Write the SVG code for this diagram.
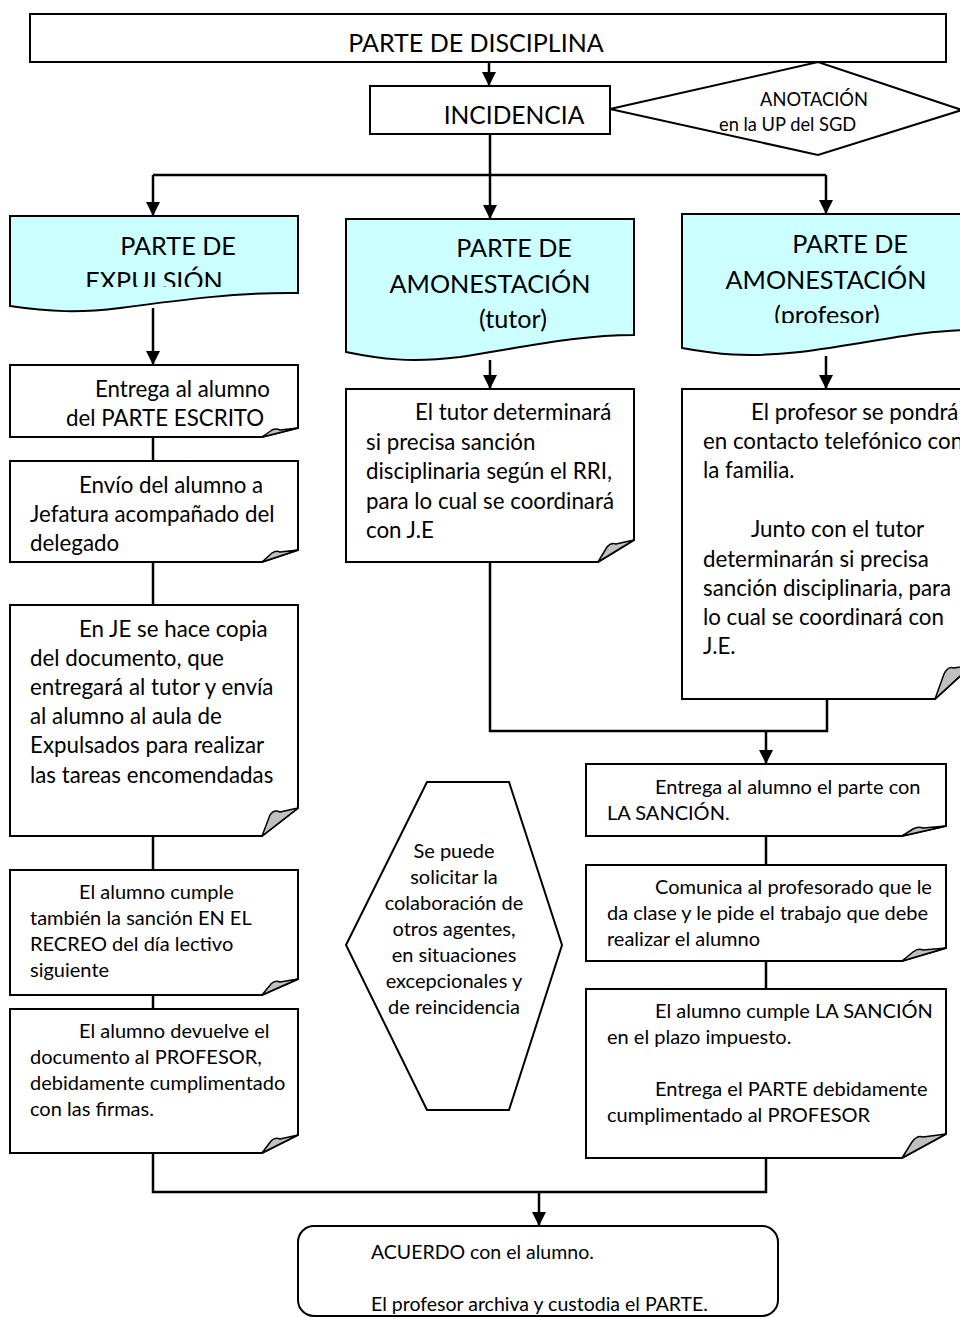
<svg xmlns="http://www.w3.org/2000/svg" width="960" height="1317" viewBox="0 0 960 1317">
<style>
.box{fill:#fff;stroke:#000;stroke-width:2}
.cyan{fill:#ccffff;stroke:#000;stroke-width:2}
.fold{fill:#c0c0c0;stroke:#000;stroke-width:1.5;stroke-linejoin:round}
.t{font-family:Lato,"Open Sans","Liberation Sans",sans-serif;fill:#000}
.big{font-size:25.2px}
.mid{font-size:22.3px}
.sm{font-size:20px}
.xs{font-size:18.3px}
.c{text-anchor:middle}
.ln{fill:none;stroke:#000;stroke-width:2.5}
</style>
<defs>
<marker id="ah" markerUnits="userSpaceOnUse" markerWidth="14" markerHeight="14" refX="14" refY="7" orient="auto">
<path d="M0,0 L14,7 L0,14 Z" fill="#000"/>
</marker>
<clipPath id="clipExp"><rect x="0" y="200" width="320" height="87"/></clipPath>
<clipPath id="clipProf"><rect x="660" y="200" width="300" height="123"/></clipPath>
<clipPath id="clipDel"><rect x="0" y="460" width="320" height="96"/></clipPath>
</defs>

<g id="connectors">
<line class="ln" x1="489" y1="62" x2="489" y2="86" marker-end="url(#ah)"/>
<polyline class="ln" points="490,134 490,175"/>
<polyline class="ln" points="153,175 826,175"/>
<line class="ln" x1="153" y1="175" x2="153" y2="216" marker-end="url(#ah)"/>
<line class="ln" x1="490" y1="175" x2="490" y2="219" marker-end="url(#ah)"/>
<line class="ln" x1="826" y1="175" x2="826" y2="214" marker-end="url(#ah)"/>
<line class="ln" x1="153" y1="308" x2="153" y2="365" marker-end="url(#ah)"/>
<line class="ln" x1="490" y1="360" x2="490" y2="389" marker-end="url(#ah)"/>
<line class="ln" x1="826" y1="356" x2="826" y2="389" marker-end="url(#ah)"/>
<line class="ln" x1="153" y1="437" x2="153" y2="461"/>
<line class="ln" x1="153" y1="562" x2="153" y2="605"/>
<line class="ln" x1="153" y1="836" x2="153" y2="870"/>
<line class="ln" x1="153" y1="995" x2="153" y2="1009"/>
<polyline class="ln" points="153,1153 153,1192 766,1192 766,1158"/>
<line class="ln" x1="539" y1="1192" x2="539" y2="1226" marker-end="url(#ah)"/>
<polyline class="ln" points="490,562 490,731 827,731 827,699"/>
<line class="ln" x1="766" y1="731" x2="766" y2="764" marker-end="url(#ah)"/>
<line class="ln" x1="766" y1="836" x2="766" y2="865"/>
<line class="ln" x1="766" y1="961" x2="766" y2="989"/>
</g>

<g id="parte-disciplina">
<rect class="box" x="30" y="14" width="916" height="48"/>
<text class="t c" x="476" y="52" font-size="25">PARTE DE DISCIPLINA</text>
</g>

<g id="incidencia">
<rect class="box" x="370" y="86" width="240" height="48"/>
<text class="t c" x="514" y="124" font-size="24.6">INCIDENCIA</text>
</g>

<g id="anotacion">
<polygon class="box" points="610,109 818,62 962,110 818,155"/>
<text class="t xs c" x="814" y="106">ANOTACIÓN</text>
<text class="t xs" x="719" y="131">en la UP del SGD</text>
</g>

<g id="parte-expulsion">
<path class="cyan" d="M10,216 H298 V293 C240,292 180,300 120,308 C80,313 50,312 10,306 Z"/>
<text class="t big c" x="178" y="255">PARTE DE</text>
<text class="t big c" x="154" y="290" clip-path="url(#clipExp)">EXPULSIÓN</text>
</g>

<g id="parte-amonestacion-tutor">
<path class="cyan" d="M346,219 H634 V335 C580,335 530,346 460,357 C410,363 380,359 346,352 Z"/>
<text class="t big c" x="514" y="257">PARTE DE</text>
<text class="t big c" x="490" y="293">AMONESTACIÓN</text>
<text class="t big c" x="513" y="328">(tutor)</text>
</g>

<g id="parte-amonestacion-profesor">
<path class="cyan" d="M682,214 H972 V330 C920,330 870,343 800,352 C745,358 715,354 682,348 Z"/>
<text class="t big c" x="850" y="253">PARTE DE</text>
<text class="t big c" x="826" y="289">AMONESTACIÓN</text>
<text class="t big c" x="827" y="324" clip-path="url(#clipProf)">(profesor)</text>
</g>

<g id="entrega-parte-escrito">
<path class="box" d="M10,365 H298 V428 L262,437 H10 Z"/>
<path class="fold" d="M262,437 L272,430 Q276,428 280,430 L298,428 Z"/>
<text class="t mid" x="95" y="397">Entrega al alumno</text>
<text class="t mid" x="66" y="426">del PARTE ESCRITO</text>
</g>

<g id="envio-jefatura">
<path class="box" d="M10,461 H298 V550 L262,562 H10 Z"/>
<path class="fold" d="M262,562 L272,553 Q276,550 280,552 L298,550 Z"/>
<text class="t mid" x="79" y="493">Envío del alumno a</text>
<text class="t mid" x="30" y="522">Jefatura acompañado del</text>
<text class="t mid" x="30" y="551" clip-path="url(#clipDel)">delegado</text>
</g>

<g id="copia-je">
<path class="box" d="M10,605 H298 V808 L262,836 H10 Z"/>
<path class="fold" d="M262,836 L270,815 Q274,809 280,812 L298,808 Z"/>
<text class="t mid" x="79" y="637">En JE se hace copia</text>
<text class="t mid" x="30" y="666">del documento, que</text>
<text class="t mid" x="30" y="695">entregará al tutor y envía</text>
<text class="t mid" x="30" y="724">al alumno al aula de</text>
<text class="t mid" x="30" y="753">Expulsados para realizar</text>
<text class="t mid" x="30" y="783">las tareas encomendadas</text>
</g>

<g id="sancion-recreo">
<path class="box" d="M10,870 H298 V979 L262,995 H10 Z"/>
<path class="fold" d="M262,995 L271,984 Q275,980 280,982 L298,979 Z"/>
<text class="t sm" x="79" y="899">El alumno cumple</text>
<text class="t sm" x="30" y="925">también la sanción EN EL</text>
<text class="t sm" x="30" y="951">RECREO del día lectivo</text>
<text class="t sm" x="30" y="977">siguiente</text>
</g>

<g id="devuelve-documento">
<path class="box" d="M10,1009 H298 V1135 L262,1153 H10 Z"/>
<path class="fold" d="M262,1153 L271,1141 Q275,1137 280,1139 L298,1135 Z"/>
<text class="t sm" x="79" y="1038">El alumno devuelve  el</text>
<text class="t sm" x="30" y="1064">documento al PROFESOR,</text>
<text class="t sm" x="30" y="1090">debidamente cumplimentado</text>
<text class="t sm" x="30" y="1116">con las firmas.</text>
</g>

<g id="tutor-determinara">
<path class="box" d="M346,389 H634 V540 L598,562 H346 Z"/>
<path class="fold" d="M598,562 L607,547 Q611,542 616,544 L634,540 Z"/>
<text class="t mid" x="415" y="420">El tutor determinará</text>
<text class="t mid" x="366" y="450">si precisa sanción</text>
<text class="t mid" x="366" y="479">disciplinaria según el RRI,</text>
<text class="t mid" x="366" y="509">para lo cual se coordinará</text>
<text class="t mid" x="366" y="538">con J.E</text>
</g>

<g id="profesor-contacto">
<path class="box" d="M682,389 H972 V665 L935,699 H682 Z"/>
<path class="fold" d="M935,699 L944,674 Q948,666 954,668 L972,665 Z"/>
<text class="t mid" x="751" y="420">El profesor  se pondrá</text>
<text class="t mid" x="703" y="449">en contacto telefónico con</text>
<text class="t mid" x="703" y="478">la familia.</text>
<text class="t mid" x="751" y="537">Junto con el tutor</text>
<text class="t mid" x="703" y="567">determinarán si precisa</text>
<text class="t mid" x="703" y="596">sanción disciplinaria, para</text>
<text class="t mid" x="703" y="625">lo cual se coordinará con</text>
<text class="t mid" x="703" y="654">J.E.</text>
</g>

<g id="entrega-sancion">
<path class="box" d="M586,764 H946 V826 L902,836 H586 Z"/>
<path class="fold" d="M902,836 L913,829 Q918,826 923,828 L946,826 Z"/>
<text class="t sm" x="655" y="794">Entrega  al alumno el parte con</text>
<text class="t sm" x="607" y="820">LA SANCIÓN.</text>
</g>

<g id="comunica-profesorado">
<path class="box" d="M586,865 H946 V948 L902,961 H586 Z"/>
<path class="fold" d="M902,961 L913,952 Q918,948 923,950 L946,948 Z"/>
<text class="t sm" x="655" y="894">Comunica al profesorado que le</text>
<text class="t sm" x="607" y="920">da clase y le pide el trabajo que debe</text>
<text class="t sm" x="607" y="946">realizar el alumno</text>
</g>

<g id="cumple-sancion">
<path class="box" d="M586,989 H946 V1134 L902,1158 H586 Z"/>
<path class="fold" d="M902,1158 L912,1142 Q917,1135 923,1137 L946,1134 Z"/>
<text class="t sm" x="655" y="1018">El alumno cumple LA SANCIÓN</text>
<text class="t sm" x="607" y="1044">en el plazo impuesto.</text>
<text class="t sm" x="655" y="1096">Entrega el PARTE debidamente</text>
<text class="t sm" x="607" y="1122">cumplimentado al  PROFESOR</text>
</g>

<g id="colaboracion">
<polygon class="box" points="427,782 509,782 562,945 509,1110 427,1110 346,945"/>
<text class="t sm c" x="454" y="858">Se puede</text>
<text class="t sm c" x="454" y="884">solicitar la</text>
<text class="t sm c" x="454" y="910">colaboración de</text>
<text class="t sm c" x="454" y="936">otros agentes,</text>
<text class="t sm c" x="454" y="962">en situaciones</text>
<text class="t sm c" x="454" y="988">excepcionales y</text>
<text class="t sm c" x="454" y="1014">de reincidencia</text>
</g>

<g id="acuerdo">
<rect class="box" x="298" y="1226" width="480" height="90" rx="16" ry="16"/>
<text class="t" x="371" y="1259" font-size="19.5">ACUERDO con el alumno.</text>
<text class="t" x="371" y="1311" font-size="19.5">El profesor archiva y custodia el PARTE.</text>
</g>
</svg>
